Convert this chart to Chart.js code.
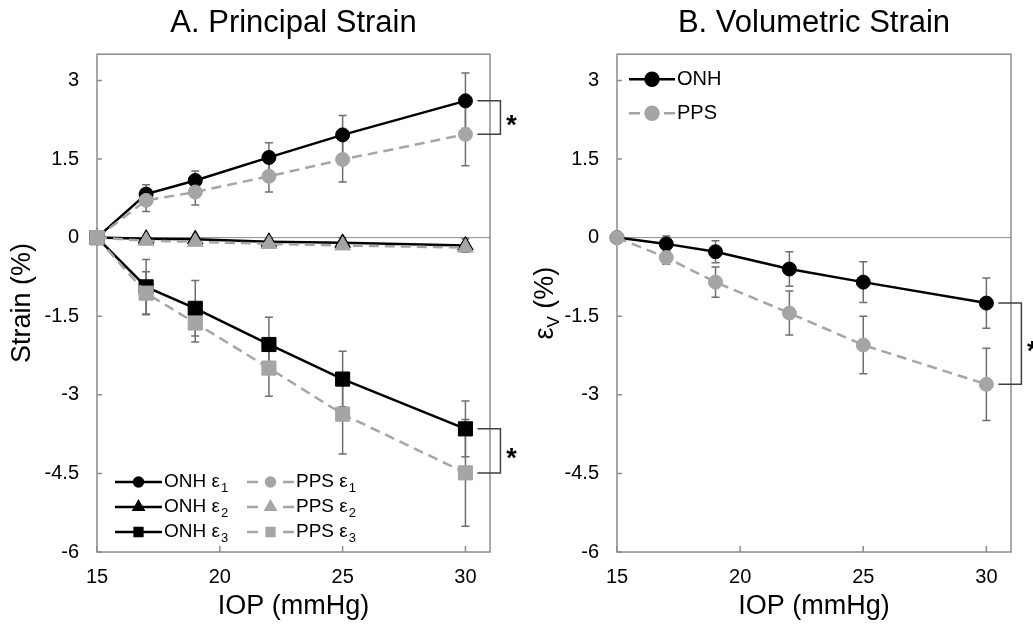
<!DOCTYPE html>
<html>
<head>
<meta charset="utf-8">
<script src="https://cdn.jsdelivr.net/npm/chart.js@4.4.1/dist/chart.umd.min.js"></script>
<style>
  body { margin: 0; background: #fff; }
  canvas { position: absolute; top: 0; }
</style>
</head>
<body>
<canvas id="chartA" width="517" height="625" style="left:0"></canvas>
<canvas id="chartB" width="516" height="625" style="left:517px"></canvas>
<script>
// IOP steps (mmHg) and axis ticks
const iop = [15, 17, 19, 22, 25, 30];
const xTicks = [15, 20, 25, 30];
const yTicks = [-6, -4.5, -3, -1.5, 0, 1.5, 3];

// A. principal strain (%), mean and SD
const onhE1 = [0, 0.83, 1.09, 1.53, 1.96, 2.61];
const onhE1Sd = [0, 0.18, 0.18, 0.28, 0.37, 0.53];
const ppsE1 = [0, 0.71, 0.87, 1.17, 1.49, 1.97];
const ppsE1Sd = [0, 0.21, 0.25, 0.30, 0.43, 0.60];
const onhE2 = [0, -0.02, -0.03, -0.08, -0.10, -0.15];
const onhE2Sd = [0, 0.02, 0.03, 0.06, 0.10, 0.13];
const ppsE2 = [0, -0.06, -0.08, -0.12, -0.15, -0.19];
const ppsE2Sd = [0, 0.03, 0.04, 0.05, 0.07, 0.08];
const onhE3 = [0, -0.94, -1.35, -2.04, -2.70, -3.65];
const onhE3Sd = [0, 0.52, 0.53, 0.52, 0.53, 0.53];
const ppsE3 = [0, -1.06, -1.63, -2.49, -3.37, -4.49];
const ppsE3Sd = [0, 0.41, 0.36, 0.54, 0.76, 1.02];

// B. volumetric strain (%), mean and SD
const onhEv = [0, -0.12, -0.27, -0.60, -0.85, -1.25];
const onhEvSd = [0, 0.15, 0.21, 0.33, 0.39, 0.48];
const ppsEv = [0, -0.38, -0.85, -1.44, -2.05, -2.80];
const ppsEvSd = [0, 0.13, 0.29, 0.42, 0.55, 0.69];

const BLACK = '#000000';
const GREY = '#a5a5a5';
const FONT = "'Liberation Sans', Arial, sans-serif";

Chart.defaults.font.family = FONT;
Chart.defaults.color = '#000';

function series(label, values, sd, color, dashed, style, radius, order) {
    return {
        label: label,
        data: values.map((v, i) => ({ x: iop[i], y: v })),
        sd: sd,
        borderColor: color,
        backgroundColor: color,
        pointBackgroundColor: color,
        pointBorderColor: color,
        pointBorderWidth: 1,
        borderWidth: 2.5,
        borderDash: dashed ? [10, 6] : [],
        pointStyle: style,
        pointRadius: radius,
        pointHoverRadius: radius,
        tension: 0,
        clip: false,
        order: order
    };
}

// frame, zero line, inner tick marks and error bars (under the markers)
const framePlugin = {
    id: 'frame',
    beforeDatasetsDraw(chart) {
        const { ctx, chartArea: a, scales: { x, y } } = chart;
        ctx.save();
        ctx.strokeStyle = '#8c8c8c';
        ctx.lineWidth = 1;
        const y0 = y.getPixelForValue(0);
        ctx.beginPath();
        ctx.moveTo(a.left, y0);
        ctx.lineTo(a.right, y0);
        ctx.stroke();

        ctx.lineWidth = 1.5;
        ctx.beginPath();
        y.ticks.forEach(t => {
            const p = y.getPixelForValue(t.value);
            ctx.moveTo(a.left, p);
            ctx.lineTo(a.left + 5, p);
        });
        x.ticks.forEach(t => {
            const p = x.getPixelForValue(t.value);
            ctx.moveTo(p, a.bottom);
            ctx.lineTo(p, a.bottom - 6);
        });
        ctx.stroke();
        ctx.strokeRect(a.left, a.top, a.width, a.height);

        // error bars
        ctx.strokeStyle = '#6f6f6f';
        ctx.lineWidth = 1.5;
        chart.data.datasets.forEach(ds => {
            ds.data.forEach((pt, j) => {
                const e = ds.sd[j];
                if (!e) return;
                const px = x.getPixelForValue(pt.x);
                const top = y.getPixelForValue(pt.y + e);
                const bot = y.getPixelForValue(pt.y - e);
                ctx.beginPath();
                ctx.moveTo(px, top);
                ctx.lineTo(px, bot);
                ctx.moveTo(px - 4, top);
                ctx.lineTo(px + 4, top);
                ctx.moveTo(px - 4, bot);
                ctx.lineTo(px + 4, bot);
                ctx.stroke();
            });
        });
        ctx.restore();
    }
};

// significance brackets between last points of two series
const bracketPlugin = {
    id: 'brackets',
    afterDatasetsDraw(chart, args, opts) {
        const { ctx } = chart;
        ctx.save();
        ctx.strokeStyle = '#404040';
        ctx.lineWidth = 1.5;
        (opts.pairs || []).forEach(pair => {
            const ma = chart.getDatasetMeta(pair[0]).data;
            const mb = chart.getDatasetMeta(pair[1]).data;
            const pa = ma[ma.length - 1], pb = mb[mb.length - 1];
            const x1 = pa.x + 12, x2 = pa.x + 35;
            ctx.beginPath();
            ctx.moveTo(x1, pa.y);
            ctx.lineTo(x2, pa.y);
            ctx.lineTo(x2, pb.y);
            ctx.lineTo(x1, pb.y);
            ctx.stroke();
            ctx.fillStyle = '#000';
            ctx.font = 'bold 27px ' + FONT;
            ctx.textAlign = 'center';
            ctx.textBaseline = 'alphabetic';
            ctx.fillText('*', pa.x + 46, (pa.y + pb.y) / 2 + 16);
        });
        ctx.restore();
    }
};

// legend with line + marker samples, drawn inside the plot
const sampleLegendPlugin = {
    id: 'sampleLegend',
    afterDraw(chart, args, opts) {
        const { ctx, chartArea: a } = chart;
        ctx.save();
        opts.items.forEach(it => {
            const cy = (opts.fromBottom ? a.bottom : a.top) + opts.y0 + it.row * opts.dy;
            const x1 = a.left + opts.cols[it.col];
            const x2 = x1 + opts.sampleWidth;
            const xm = (x1 + x2) / 2;
            ctx.strokeStyle = it.color;
            ctx.lineWidth = 2.5;
            ctx.beginPath();
            if (it.dashed) {
                ctx.moveTo(x1, cy); ctx.lineTo(x1 + 11, cy);
                ctx.moveTo(x2 - 11, cy); ctx.lineTo(x2, cy);
            } else {
                ctx.moveTo(x1, cy); ctx.lineTo(x2, cy);
            }
            ctx.stroke();
            Chart.helpers.drawPoint(ctx, {
                pointStyle: it.style, radius: it.r, rotation: 0, borderWidth: 1
            }, xm, cy);
            ctx.fillStyle = it.color;
            ctx.fill();

            ctx.fillStyle = '#000';
            ctx.textAlign = 'left';
            ctx.textBaseline = 'middle';
            ctx.font = opts.size + 'px ' + FONT;
            ctx.fillText(it.text, x2 + 2, cy);
            if (it.sub) {
                const w = ctx.measureText(it.text).width;
                ctx.font = opts.subSize + 'px ' + FONT;
                ctx.fillText(it.sub, x2 + 3 + w, cy + 6);
            }
        });
        ctx.restore();
    }
};

// y title with a subscript (εV)
const subTitlePlugin = {
    id: 'subTitle',
    afterDraw(chart, args, opts) {
        if (!opts.parts) return;
        const { ctx, chartArea: a } = chart;
        ctx.save();
        ctx.fillStyle = '#000';
        ctx.textBaseline = 'alphabetic';
        ctx.textAlign = 'left';
        const fonts = opts.parts.map(p => (p.sub ? 17 : 27) + 'px ' + FONT);
        let total = 0;
        const widths = opts.parts.map((p, i) => {
            ctx.font = fonts[i];
            const w = ctx.measureText(p.text).width;
            total += w;
            return w;
        });
        ctx.translate(opts.x, (a.top + a.bottom) / 2);
        ctx.rotate(-Math.PI / 2);
        let cx = -total / 2;
        opts.parts.forEach((p, i) => {
            ctx.font = fonts[i];
            ctx.fillText(p.text, cx, p.sub ? 6 : 0);
            cx += widths[i];
        });
        ctx.restore();
    }
};

function makeOptions(title, yTitle, leftWidth, rightPad, extra) {
    return {
        responsive: false,
        animation: false,
        events: [],
        layout: { padding: { left: 0, right: rightPad, top: 0, bottom: 0 } },
        scales: {
            x: {
                type: 'linear',
                min: 15,
                max: 31,
                afterBuildTicks: s => { s.ticks = xTicks.map(v => ({ value: v })); },
                afterFit: s => { s.height = 73; },
                grid: { display: false, drawTicks: false },
                border: { display: false },
                ticks: { padding: 13, font: { size: 20 }, color: '#000' },
                title: {
                    display: true, text: 'IOP (mmHg)',
                    font: { size: 27 }, color: '#000',
                    padding: { top: 0, bottom: 2 }
                }
            },
            y: {
                type: 'linear',
                min: -6,
                max: 3.5,
                afterBuildTicks: s => { s.ticks = yTicks.map(v => ({ value: v })); },
                afterFit: s => { s.width = leftWidth; },
                grid: { display: false, drawTicks: false },
                border: { display: false },
                ticks: { padding: 18, font: { size: 20 }, color: '#000' },
                title: {
                    display: !!yTitle, text: yTitle || '',
                    font: { size: 27 }, color: '#000',
                    padding: { top: 6, bottom: 0 }
                }
            }
        },
        plugins: Object.assign({
            legend: { display: false },
            tooltip: { enabled: false },
            title: {
                display: true, text: title, fullSize: false,
                font: { size: 31, weight: 'normal' }, color: '#000',
                padding: { top: 5, bottom: 12 }
            }
        }, extra)
    };
}

// A. Principal Strain
new Chart(document.getElementById('chartA').getContext('2d'), {
    type: 'line',
    data: {
        datasets: [
            series('ONH ε1', onhE1, onhE1Sd, BLACK, false, 'circle', 7, 5),
            series('ONH ε2', onhE2, onhE2Sd, BLACK, false, 'triangle', 9, 4),
            series('ONH ε3', onhE3, onhE3Sd, BLACK, false, 'rect', 10, 3),
            series('PPS ε1', ppsE1, ppsE1Sd, GREY, true, 'circle', 7, 2),
            series('PPS ε2', ppsE2, ppsE2Sd, GREY, true, 'triangle', 9, 1),
            series('PPS ε3', ppsE3, ppsE3Sd, GREY, true, 'rect', 10, 0)
        ]
    },
    options: makeOptions('A. Principal Strain', 'Strain (%)', 97, 27, {
        brackets: { pairs: [[0, 3], [2, 5]] },
        sampleLegend: {
            fromBottom: true, y0: -70, dy: 25, cols: [18, 150], sampleWidth: 47,
            size: 19, subSize: 13,
            items: [
                { text: 'ONH ε', sub: '1', color: BLACK, style: 'circle', r: 4.5, col: 0, row: 0 },
                { text: 'ONH ε', sub: '2', color: BLACK, style: 'triangle', r: 5.5, col: 0, row: 1 },
                { text: 'ONH ε', sub: '3', color: BLACK, style: 'rect', r: 5.5, col: 0, row: 2 },
                { text: 'PPS ε', sub: '1', color: GREY, dashed: true, style: 'circle', r: 4.5, col: 1, row: 0 },
                { text: 'PPS ε', sub: '2', color: GREY, dashed: true, style: 'triangle', r: 5.5, col: 1, row: 1 },
                { text: 'PPS ε', sub: '3', color: GREY, dashed: true, style: 'rect', r: 5.5, col: 1, row: 2 }
            ]
        }
    }),
    plugins: [framePlugin, bracketPlugin, sampleLegendPlugin, subTitlePlugin]
});

// B. Volumetric Strain
new Chart(document.getElementById('chartB').getContext('2d'), {
    type: 'line',
    data: {
        datasets: [
            series('ONH', onhEv, onhEvSd, BLACK, false, 'circle', 7, 1),
            series('PPS', ppsEv, ppsEvSd, GREY, true, 'circle', 7, 0)
        ]
    },
    options: makeOptions('B. Volumetric Strain', null, 100, 22, {
        brackets: { pairs: [[0, 1]] },
        sampleLegend: {
            fromBottom: false, y0: 25, dy: 34, cols: [12], sampleWidth: 46,
            size: 20, subSize: 14,
            items: [
                { text: 'ONH', color: BLACK, style: 'circle', r: 6.5, col: 0, row: 0 },
                { text: 'PPS', color: GREY, dashed: true, style: 'circle', r: 6.5, col: 0, row: 1 }
            ]
        },
        subTitle: { x: 36, parts: [{ text: 'ε' }, { text: 'V', sub: true }, { text: ' (%)' }] }
    }),
    plugins: [framePlugin, bracketPlugin, sampleLegendPlugin, subTitlePlugin]
});
</script>
</body>
</html>
